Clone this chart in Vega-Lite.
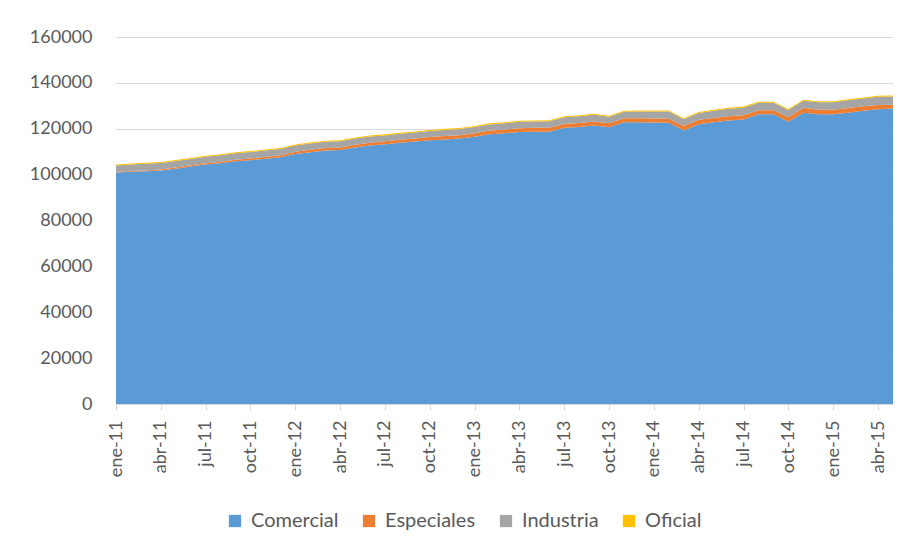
{
  "$schema": "https://vega.github.io/schema/vega-lite/v6.json",
  "autosize": {"type": "none"},
  "width": 777,
  "height": 367,
  "padding": {"left": 116, "top": 37, "right": 13, "bottom": 145},
  "background": "white",
  "config": {
    "font": "Lato",
    "view": {"stroke": null},
    "axis": {"labelFont": "Lato", "labelColor": "#595959", "labelFontSize": 18}
  },
  "data": {
    "values": [
      {"mes": "ene-11", "Comercial": 100900, "Especiales": 200, "Industria": 2900, "Oficial": 450},
      {"mes": "feb-11", "Comercial": 101300, "Especiales": 250, "Industria": 2900, "Oficial": 450},
      {"mes": "mar-11", "Comercial": 101500, "Especiales": 300, "Industria": 2900, "Oficial": 450},
      {"mes": "abr-11", "Comercial": 101800, "Especiales": 400, "Industria": 2900, "Oficial": 450},
      {"mes": "may-11", "Comercial": 102600, "Especiales": 500, "Industria": 2800, "Oficial": 450},
      {"mes": "jun-11", "Comercial": 103500, "Especiales": 550, "Industria": 2800, "Oficial": 450},
      {"mes": "jul-11", "Comercial": 104400, "Especiales": 600, "Industria": 2800, "Oficial": 450},
      {"mes": "ago-11", "Comercial": 105000, "Especiales": 650, "Industria": 2800, "Oficial": 450},
      {"mes": "sep-11", "Comercial": 105800, "Especiales": 700, "Industria": 2800, "Oficial": 450},
      {"mes": "oct-11", "Comercial": 106300, "Especiales": 750, "Industria": 2800, "Oficial": 450},
      {"mes": "nov-11", "Comercial": 106900, "Especiales": 800, "Industria": 2800, "Oficial": 450},
      {"mes": "dic-11", "Comercial": 107600, "Especiales": 900, "Industria": 2700, "Oficial": 450},
      {"mes": "ene-12", "Comercial": 109000, "Especiales": 1000, "Industria": 2700, "Oficial": 450},
      {"mes": "feb-12", "Comercial": 109800, "Especiales": 1050, "Industria": 2700, "Oficial": 450},
      {"mes": "mar-12", "Comercial": 110500, "Especiales": 1100, "Industria": 2700, "Oficial": 450},
      {"mes": "abr-12", "Comercial": 110700, "Especiales": 1150, "Industria": 2700, "Oficial": 450},
      {"mes": "may-12", "Comercial": 111800, "Especiales": 1200, "Industria": 2700, "Oficial": 450},
      {"mes": "jun-12", "Comercial": 112700, "Especiales": 1250, "Industria": 2700, "Oficial": 450},
      {"mes": "jul-12", "Comercial": 113200, "Especiales": 1300, "Industria": 2600, "Oficial": 450},
      {"mes": "ago-12", "Comercial": 113900, "Especiales": 1350, "Industria": 2600, "Oficial": 450},
      {"mes": "sep-12", "Comercial": 114400, "Especiales": 1400, "Industria": 2600, "Oficial": 450},
      {"mes": "oct-12", "Comercial": 115000, "Especiales": 1450, "Industria": 2600, "Oficial": 450},
      {"mes": "nov-12", "Comercial": 115300, "Especiales": 1500, "Industria": 2700, "Oficial": 450},
      {"mes": "dic-12", "Comercial": 115700, "Especiales": 1500, "Industria": 2700, "Oficial": 450},
      {"mes": "ene-13", "Comercial": 116500, "Especiales": 1550, "Industria": 2700, "Oficial": 450},
      {"mes": "feb-13", "Comercial": 117600, "Especiales": 1600, "Industria": 2700, "Oficial": 450},
      {"mes": "mar-13", "Comercial": 118000, "Especiales": 1600, "Industria": 2800, "Oficial": 450},
      {"mes": "abr-13", "Comercial": 118600, "Especiales": 1650, "Industria": 2800, "Oficial": 450},
      {"mes": "may-13", "Comercial": 118700, "Especiales": 1700, "Industria": 2800, "Oficial": 450},
      {"mes": "jun-13", "Comercial": 118700, "Especiales": 1700, "Industria": 2900, "Oficial": 450},
      {"mes": "jul-13", "Comercial": 120400, "Especiales": 1700, "Industria": 2900, "Oficial": 450},
      {"mes": "ago-13", "Comercial": 120800, "Especiales": 1700, "Industria": 2900, "Oficial": 450},
      {"mes": "sep-13", "Comercial": 121400, "Especiales": 1750, "Industria": 2900, "Oficial": 450},
      {"mes": "oct-13", "Comercial": 120700, "Especiales": 1750, "Industria": 2800, "Oficial": 450},
      {"mes": "nov-13", "Comercial": 122800, "Especiales": 1800, "Industria": 2800, "Oficial": 450},
      {"mes": "dic-13", "Comercial": 122800, "Especiales": 1800, "Industria": 2900, "Oficial": 450},
      {"mes": "ene-14", "Comercial": 122700, "Especiales": 1800, "Industria": 3000, "Oficial": 450},
      {"mes": "feb-14", "Comercial": 122600, "Especiales": 1800, "Industria": 3100, "Oficial": 450},
      {"mes": "mar-14", "Comercial": 119200, "Especiales": 2000, "Industria": 2900, "Oficial": 450},
      {"mes": "abr-14", "Comercial": 122000, "Especiales": 1900, "Industria": 3000, "Oficial": 450},
      {"mes": "may-14", "Comercial": 122800, "Especiales": 1900, "Industria": 3100, "Oficial": 450},
      {"mes": "jun-14", "Comercial": 123600, "Especiales": 1900, "Industria": 3200, "Oficial": 450},
      {"mes": "jul-14", "Comercial": 124000, "Especiales": 1900, "Industria": 3300, "Oficial": 450},
      {"mes": "ago-14", "Comercial": 126300, "Especiales": 1800, "Industria": 3200, "Oficial": 450},
      {"mes": "sep-14", "Comercial": 126300, "Especiales": 1800, "Industria": 3200, "Oficial": 450},
      {"mes": "oct-14", "Comercial": 123100, "Especiales": 1900, "Industria": 3200, "Oficial": 450},
      {"mes": "nov-14", "Comercial": 127000, "Especiales": 2200, "Industria": 3000, "Oficial": 450},
      {"mes": "dic-14", "Comercial": 126300, "Especiales": 2000, "Industria": 3200, "Oficial": 450},
      {"mes": "ene-15", "Comercial": 126300, "Especiales": 2000, "Industria": 3200, "Oficial": 450},
      {"mes": "feb-15", "Comercial": 127000, "Especiales": 2100, "Industria": 3300, "Oficial": 450},
      {"mes": "mar-15", "Comercial": 127800, "Especiales": 2000, "Industria": 3400, "Oficial": 450},
      {"mes": "abr-15", "Comercial": 128500, "Especiales": 1900, "Industria": 3500, "Oficial": 450},
      {"mes": "may-15", "Comercial": 128800, "Especiales": 1700, "Industria": 3600, "Oficial": 450}
    ]
  },
  "transform": [
    {"fold": ["Comercial", "Especiales", "Industria", "Oficial"], "as": ["serie", "valor"]}
  ],
  "mark": {"type": "area", "opacity": 1},
  "encoding": {
    "x": {
      "field": "mes",
      "type": "ordinal",
      "sort": null,
      "scale": {"type": "point", "padding": 0},
      "axis": {
        "title": null,
        "values": ["ene-11","abr-11","jul-11","oct-11","ene-12","abr-12","jul-12","oct-12","ene-13","abr-13","jul-13","oct-13","ene-14","abr-14","jul-14","oct-14","ene-15","abr-15"],
        "labelAngle": -90,
        "labelPadding": 10,
        "tickSize": 6,
        "tickColor": "#D9D9D9",
        "domainColor": "#D9D9D9",
        "grid": false
      }
    },
    "y": {
      "field": "valor",
      "type": "quantitative",
      "stack": "zero",
      "scale": {"domain": [0, 160000], "nice": false},
      "axis": {
        "title": null,
        "values": [0, 20000, 40000, 60000, 80000, 100000, 120000, 140000, 160000],
        "format": "d",
        "domain": false,
        "ticks": false,
        "labelPadding": 24,
        "gridColor": "#D9D9D9",
        "gridWidth": 1
      }
    },
    "color": {
      "field": "serie",
      "type": "nominal",
      "scale": {
        "domain": ["Comercial", "Especiales", "Industria", "Oficial"],
        "range": ["#5B9BD5", "#ED7D31", "#A5A5A5", "#FFC000"]
      },
      "legend": {
        "title": null,
        "orient": "none",
        "direction": "horizontal",
        "legendX": 109,
        "legendY": 474,
        "symbolType": "square",
        "symbolSize": 150,
        "symbolStrokeWidth": 0,
        "labelFont": "Lato",
        "labelFontSize": 20,
        "labelColor": "#595959",
        "labelOffset": 6,
        "columnPadding": 20
      }
    },
    "order": {"field": "serie", "sort": "ascending"}
  }
}
